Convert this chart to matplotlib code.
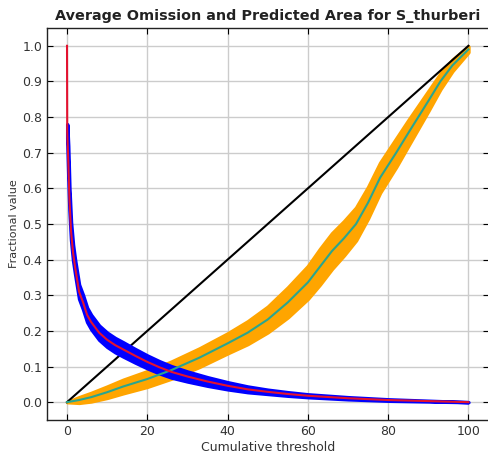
import numpy as np
import matplotlib
matplotlib.use("Agg")
import matplotlib.pyplot as plt

# Predicted area (mean and half-width of band)
area_x = [0, 0.05, 0.3, 0.6, 1.0, 1.5, 2, 3, 4, 5, 6, 8, 10, 12, 14, 17, 20, 23, 26, 30, 35, 40, 45, 50, 55, 60, 70, 80, 90, 100]
area_mean = [1.0, 0.76, 0.68, 0.57, 0.48, 0.42, 0.38, 0.31, 0.28, 0.245, 0.225, 0.195, 0.175, 0.16, 0.148, 0.13, 0.113, 0.098, 0.085, 0.072, 0.058, 0.046, 0.036, 0.029, 0.023, 0.018, 0.011, 0.006, 0.003, 0.0]
area_sd = [0.0, 0.02, 0.04, 0.03, 0.025, 0.022, 0.02, 0.02, 0.02, 0.02, 0.02, 0.02, 0.02, 0.02, 0.02, 0.019, 0.018, 0.017, 0.016, 0.014, 0.012, 0.01, 0.008, 0.006, 0.005, 0.004, 0.003, 0.002, 0.001, 0.0]

# Average omission on test data (mean and half-width of band)
om_x = [0, 3, 6, 10, 14, 20, 26, 33, 40, 45, 50, 55, 60, 63, 66, 69, 72, 75, 78, 82, 85, 87.5, 90, 93, 96, 100]
om_mean = [0.0, 0.006, 0.014, 0.028, 0.044, 0.065, 0.09, 0.125, 0.165, 0.195, 0.232, 0.28, 0.336, 0.38, 0.424, 0.46, 0.5, 0.56, 0.63, 0.7, 0.755, 0.8, 0.845, 0.9, 0.945, 0.99]
om_sd = [0.0, 0.008, 0.012, 0.016, 0.019, 0.022, 0.024, 0.026, 0.028, 0.032, 0.036, 0.042, 0.046, 0.05, 0.05, 0.048, 0.046, 0.044, 0.042, 0.04, 0.036, 0.032, 0.028, 0.022, 0.016, 0.008]

# Predicted omission
pred_x = [0, 100]
pred_y = [0.0, 1.0]

xticks = [0, 20, 40, 60, 80, 100]
yticks = [0.0, 0.1, 0.2, 0.3, 0.4, 0.5, 0.6, 0.7, 0.8, 0.9, 1.0]

fig = plt.figure(figsize=(4.89, 4.59), dpi=100)
ax = fig.add_axes([0.096, 0.085, 0.903, 0.854])

ax.grid(True, color="#cccccc", linewidth=1.0, zorder=0)
ax.set_axisbelow(True)

am = np.array(area_mean); asd = np.array(area_sd)
om = np.array(om_mean); osd = np.array(om_sd)

ax.fill_between(om_x, om - osd, om + osd, color="#ffa500", edgecolor="#ffa500", linewidth=2.5, zorder=2)
ax.plot(pred_x, pred_y, color="black", linewidth=1.5, zorder=3)
ax.fill_between(area_x[1:], (am - asd)[1:], (am + asd)[1:], color="#0000ff", edgecolor="#0000ff", linewidth=2.5, zorder=4)
ax.plot(om_x, om_mean, color="#2aa58f", linewidth=1.5, zorder=5)
ax.plot(area_x, area_mean, color="#e3122f", linewidth=1.5, zorder=6)

ax.set_xlim(-5, 105)
ax.set_ylim(-0.05, 1.05)
ax.set_xticks(xticks)
ax.set_yticks(yticks)
ax.tick_params(direction="in", top=True, right=True, labelsize=9, labelcolor="#333333", length=4)
for s in ax.spines.values():
    s.set_color("#222222")
    s.set_linewidth(1.0)

ax.set_title("Average Omission and Predicted Area for S_thurberi", fontsize=10.4, fontweight="bold", color="#222222")
ax.set_xlabel("Cumulative threshold", fontsize=9, color="#333333", labelpad=2)
ax.set_ylabel("Fractional value", fontsize=8, color="#333333", labelpad=2)

fig.savefig("out.png", dpi=100)
